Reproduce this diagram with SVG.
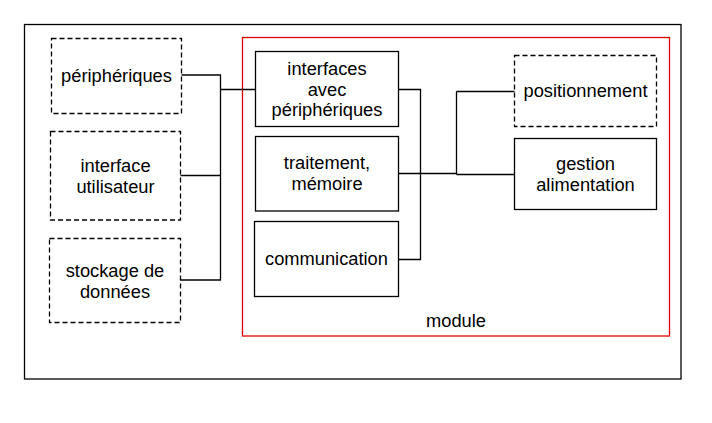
<svg xmlns="http://www.w3.org/2000/svg" width="712" height="423" viewBox="0 0 712 423">
<style>
rect{fill:none;stroke:#000;stroke-width:1.3}
.d{stroke-dasharray:5,3}
.r{stroke:#e00000}
text{font-family:"Liberation Sans",Arial,sans-serif;font-size:18.3px;fill:#000;text-anchor:middle}
#connectors path{fill:none;stroke:#000;stroke-width:1.3}
</style>
<rect x="0" y="0" width="712" height="423" style="fill:#fff;stroke:none"/>
<g id="outer"><rect x="24.5" y="24.5" width="656.5" height="354.5"/></g>
<g id="module"><rect class="r" x="242.5" y="37.5" width="427" height="298.5"/><text x="456" y="327">module</text></g>
<g id="connectors">
<path d="M181.5 75H220.5V280H180.5M180.5 175.5H220.5M220.5 89.5H255.5"/>
<path d="M398.5 89.5H420.5V259.5H398.5M398.5 173.5H456.5M456.5 91.5V174.5M456.5 91.5H514.5M456.5 174.5H514.5"/>
</g>
<g id="peripheriques"><rect class="d" x="51.5" y="38.5" width="130" height="75"/><text x="116.5" y="82">périphériques</text></g>
<g id="interface-utilisateur"><rect class="d" x="50.5" y="131.5" width="130" height="88.5"/><text x="115.5" y="172">interface</text><text x="115.5" y="193">utilisateur</text></g>
<g id="stockage"><rect class="d" x="49.5" y="238.5" width="131" height="84"/><text x="115" y="277">stockage de</text><text x="115" y="298">données</text></g>
<g id="interfaces-avec"><rect x="255.5" y="51.5" width="143" height="75"/><text x="327" y="75">interfaces</text><text x="327" y="96">avec</text><text x="327" y="116">périphériques</text></g>
<g id="traitement"><rect x="255.5" y="136.5" width="143" height="74.5"/><text x="327" y="169">traitement,</text><text x="327" y="190">mémoire</text></g>
<g id="communication"><rect x="254.5" y="221.5" width="144" height="75"/><text x="326.5" y="265">communication</text></g>
<g id="positionnement"><rect class="d" x="514.5" y="55.5" width="142" height="71"/><text x="585.5" y="97">positionnement</text></g>
<g id="gestion"><rect x="514.5" y="138.5" width="142" height="71"/><text x="585.5" y="170">gestion</text><text x="585.5" y="191">alimentation</text></g>
</svg>
